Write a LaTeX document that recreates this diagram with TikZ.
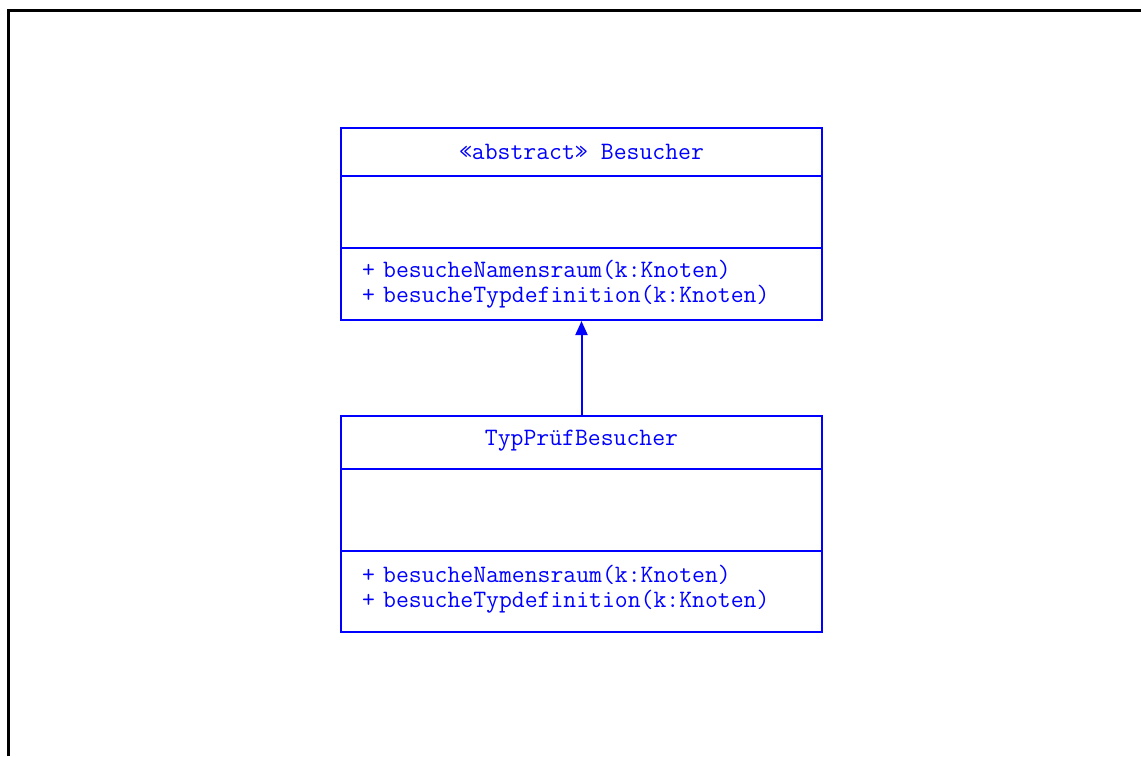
\documentclass[tikz,border=0pt]{standalone}
\usepackage{fontspec}
\usetikzlibrary{arrows.meta,positioning}

\newcommand{\umlfont}{\fontsize{12.5}{12.5}\selectfont\ttfamily
  \fontdimen2\font=0.525em\relax\fontdimen3\font=0pt\relax\fontdimen4\font=0pt\relax}

\begin{document}
\begin{tikzpicture}[
    x=0.5pt, y=-0.5pt,
    part/.style={rectangle, draw=blue, line width=1pt, minimum width=240.5pt, inner sep=0pt, text=blue, font=\umlfont},
    ops/.style={part, text width=219.5pt, inner xsep=10.5pt, align=left},
    arrow/.style={-{Triangle[length=7pt,width=6pt]}, draw=blue, line width=1pt}
]
\useasboundingbox (0,0) rectangle (1141,756);

% Frame
\draw[line width=1.5pt] (8,756) -- (8,10) -- (1141,10);

% Abstract class Besucher
\node[part, minimum height=24pt] (bname) at (581.5,152) {«abstract» Besucher};
\node[part, minimum height=36pt] (battr) at (581.5,212) {};
\node[ops, minimum height=36pt] (bops) at (581.5,284) {+ besucheNamensraum(k:Knoten)\\+ besucheTypdefinition(k:Knoten)};

% Class TypPruefBesucher
\node[part, minimum height=26.5pt, text depth=5pt] (tname) at (581.5,442.5) {TypPrüfBesucher};
\node[part, minimum height=41pt] (tattr) at (581.5,510) {};
\node[ops, minimum height=40.5pt] (tops) at (581.5,591.5) {+ besucheNamensraum(k:Knoten)\\+ besucheTypdefinition(k:Knoten)\par\vspace*{2pt}};

% Inheritance
\draw[arrow] (tname.north) -- (bops.south);

\end{tikzpicture}
\end{document}
